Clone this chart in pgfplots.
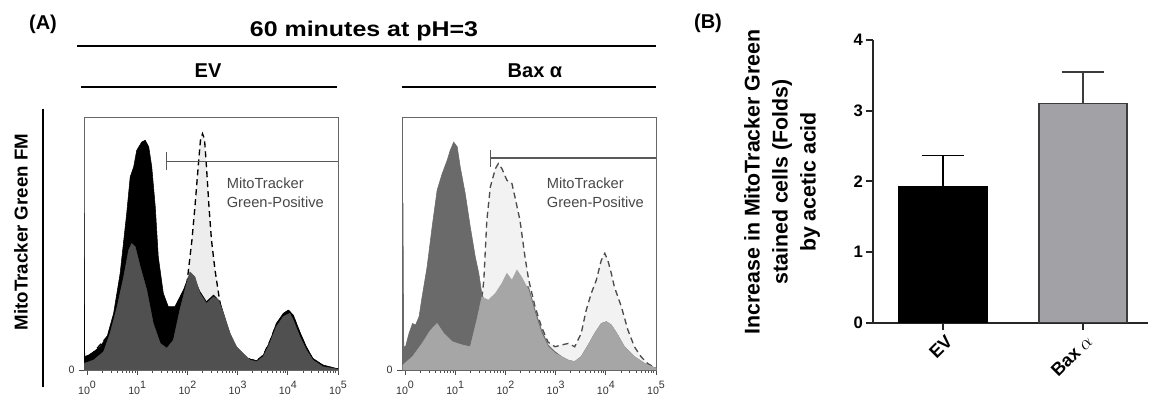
\documentclass[border=0pt]{standalone}
\usepackage{fontspec}
\setmainfont{Liberation Sans}
\usepackage{graphicx}
\usepackage{pgfplots}
\pgfplotsset{compat=1.18}
\usepackage{pgfplotstable}

\definecolor{evdark}{HTML}{505050}
\definecolor{lightfill}{HTML}{EDEDED}
\definecolor{baxdark}{HTML}{6A6A6A}
\definecolor{baxmed}{HTML}{A6A6A6}
\definecolor{baxlight}{HTML}{F2F2F2}
\definecolor{bargray}{HTML}{A2A2A6}
\definecolor{edgegray}{HTML}{3C3C3C}

% ---------- EV panel ----------
\pgfplotstableread{
x y
-0.06 62
-0.045 5.3
0.03 5.9
0.13 7.2
0.26 9.2
0.40 13.2
0.53 22.4
0.66 38.2
0.79 61.8
0.86 76.3
0.93 80.3
0.99 86.8
1.09 90.1
1.16 90.8
1.23 88.2
1.29 80.3
1.36 64.5
1.42 44.7
1.52 30.3
1.62 25
1.75 25
1.85 28.9
1.92 31.6
2.02 36.8
2.12 36.8
2.25 31
2.38 27
2.52 29.6
2.65 27
2.78 18.4
2.91 10.5
3.05 7.2
3.18 4.6
3.38 3.7
3.51 5.9
3.64 11.2
3.77 18.4
3.91 22.4
4.01 23.7
4.11 21.7
4.24 15.1
4.37 9.2
4.50 4.6
4.70 2
4.87 1.1
5.00 0.5
}\evblack

\pgfplotstableread{
x y
-0.06 2.6
0.13 3.9
0.33 7.2
0.46 14.5
0.60 25
0.73 36.8
0.83 47.4
0.89 50
0.96 48.7
1.06 40.8
1.19 31.6
1.32 18.4
1.46 10.5
1.59 8.6
1.72 11.8
1.85 23.7
1.95 31.6
2.05 38.8
2.15 36.8
2.25 30.3
2.38 26.3
2.52 28.9
2.62 27.6
2.72 22.4
2.85 14.5
2.98 9.2
3.11 6.6
3.25 3.9
3.38 3.3
3.51 5.3
3.64 10.5
3.77 17.1
3.91 21.1
4.04 22.4
4.11 19.7
4.24 13.2
4.37 7.9
4.50 3.9
4.70 1.3
5.00 0.3
}\evgray

\pgfplotstableread{
x y
-0.06 2.6
0.46 14.5
0.73 36.8
0.89 50
1.06 40.8
1.32 18.4
1.59 8.6
1.85 23.7
1.99 34.2
2.09 51.3
2.15 64.5
2.22 81.6
2.26 90.8
2.30 93.4
2.34 91.4
2.38 80.3
2.43 64.5
2.48 51.3
2.55 39.5
2.62 30.3
2.68 22.4
2.75 14.5
2.85 9.2
2.95 7.2
3.08 5.9
3.25 4.2
3.38 3.6
3.51 5.8
3.64 11.2
3.77 17.8
3.91 21.7
4.01 23.7
4.11 21.1
4.24 14.5
4.37 8.6
4.50 4.2
4.70 1.6
5.00 0.4
}\evdash

% ---------- Bax panel ----------
\pgfplotstableread{
x y
-0.04 66
-0.025 9.2
0.01 9.2
0.08 14.5
0.15 18.4
0.21 17.8
0.28 21.1
0.34 28.9
0.44 40.8
0.54 56.6
0.64 71.1
0.74 77.6
0.84 82.9
0.90 86.8
0.97 90.1
1.04 88.2
1.10 80.3
1.20 69.7
1.30 56.6
1.40 44.7
1.47 38.2
1.53 30.3
1.66 22.4
1.80 24
2.03 30
2.23 33
2.46 32.9
2.59 23.7
2.72 15.8
2.85 9.9
2.99 7.2
3.12 5.3
3.25 3.9
3.38 3.3
3.51 5.3
3.65 9.9
3.78 14.5
3.91 18.4
4.01 19.1
4.11 17.8
4.24 13.8
4.37 9.2
4.57 5.3
4.77 2.6
5.00 0.7
}\baxdark

\pgfplotstableread{
x y
-0.04 2
0.15 5.3
0.34 10.5
0.51 15.8
0.64 18.4
0.77 14.5
0.94 11.2
1.14 9.9
1.30 9.2
1.43 19.7
1.53 28.9
1.66 27.6
1.80 30.3
1.93 34.2
2.03 38.2
2.13 35.5
2.23 39.5
2.32 36.8
2.46 31.6
2.59 22.4
2.72 14.5
2.85 9.2
2.99 6.6
3.12 5.3
3.25 3.9
3.38 3.3
3.51 5.3
3.65 9.9
3.78 14.5
3.91 18.4
4.01 19.1
4.11 17.8
4.24 13.8
4.37 9.2
4.57 5.3
4.77 2.6
5.00 0.7
}\baxmed

\pgfplotstableread{
x y
-0.04 2
0.64 18.4
1.30 10.5
1.50 22.4
1.57 35.5
1.63 59.2
1.70 72.4
1.80 79.6
1.86 81.6
1.93 79.6
2.03 75
2.13 73.7
2.19 68.4
2.29 59.2
2.39 44.7
2.46 36
2.59 25
2.72 17
2.85 11
2.99 9.2
3.12 9.9
3.25 10.5
3.38 9.2
3.51 14.5
3.61 23.7
3.71 30.3
3.81 35.5
3.91 43.4
3.98 46.1
4.04 43.4
4.11 38.2
4.17 32.9
4.31 25
4.44 15.8
4.57 9.2
4.70 5.3
4.83 2.6
5.00 0.7
}\baxdash

\newcommand{\tp}[1]{10\raisebox{4.5pt}{#1}}

\pgfplotsset{
  histo/.style={
    anchor=south west, scale only axis,
    width=190.5pt, height=189.75pt,
    xmin=-0.06, xmax=5, ymin=0, ymax=100,
    axis line style={draw=black!60, line width=0.6pt},
    tick pos=left, tick align=outside,
    xtick={0,1,2,3,4,5},
    xticklabels={\tp{0},\tp{1},\tp{2},\tp{3},\tp{4},\tp{5}},
    minor xtick={0.301,0.477,0.602,0.699,0.778,0.845,0.903,0.954,
      1.301,1.477,1.602,1.699,1.778,1.845,1.903,1.954,
      2.301,2.477,2.602,2.699,2.778,2.845,2.903,2.954,
      3.301,3.477,3.602,3.699,3.778,3.845,3.903,3.954,
      4.301,4.477,4.602,4.699,4.778,4.845,4.903,4.954},
    major tick length=3.5pt, minor tick length=2.2pt,
    tick style={black!70, line width=0.5pt},
    ytick={0}, yticklabels={0},
    tick label style={font=\fontsize{8}{9}\selectfont, text=black!80},
    xticklabel style={yshift=-1pt},
  },
}
\tikzset{
  gatetext/.style={anchor=north west, align=left, inner sep=0pt,
    font=\fontsize{11}{14.3}\selectfont, text=black!72},
}

\begin{document}
\begin{tikzpicture}[x=0.75pt,y=0.75pt]
\path[use as bounding box] (0,0) rectangle (1150,396);

% ---------- headings of panel A ----------
\node[font=\fontsize{15}{18}\selectfont\bfseries] at (43,372) {(A)};
\node[anchor=base, font=\fontsize{16}{19}\selectfont\bfseries] at (364,359) {\scalebox{1.17}[1]{60 minutes at pH=3}};
\draw[line width=1.5pt] (77,350) -- (656,350);
\node[anchor=base, font=\fontsize{15}{18}\selectfont\bfseries] at (208,318) {EV};
\draw[line width=1.5pt] (81,309) -- (337,309);
\node[anchor=base, font=\fontsize{15}{18}\selectfont\bfseries] at (535,318) {Bax α};
\draw[line width=1.5pt] (402,309) -- (656,309);
\node[rotate=90, font=\fontsize{14}{17}\selectfont\bfseries] at (21,164) {MitoTracker Green FM};
\draw[line width=1.2pt] (43,287) -- (43,9);

% ---------- EV histogram ----------
\begin{axis}[histo, at={(63pt,19.5pt)}]
\addplot[fill=lightfill, draw=none] table {\evdash} \closedcycle;
\addplot[draw=black, line width=1pt, dash pattern=on 4.5pt off 3pt] table {\evdash};
\addplot[fill=black, draw=black, line width=0.4pt] table {\evblack} \closedcycle;
\addplot[fill=evdark, draw=evdark, line width=0.4pt] table {\evgray} \closedcycle;
\addplot[draw=black!65, line width=0.9pt] coordinates {(1.58,82.5) (5,82.5)};
\addplot[draw=black!65, line width=0.9pt] coordinates {(1.58,79) (1.58,86)};
\node[gatetext] at (axis cs:2.78,76) {MitoTracker\\Green-Positive};
\end{axis}

% ---------- Bax histogram ----------
\begin{axis}[histo, at={(301.5pt,19.5pt)}]
\addplot[fill=baxlight, draw=none] table {\baxdash} \closedcycle;
\addplot[draw=black!70, line width=1pt, dash pattern=on 4.5pt off 3pt] table {\baxdash};
\addplot[fill=baxdark, draw=baxdark, line width=0.4pt] table {\baxdark} \closedcycle;
\addplot[fill=baxmed, draw=baxmed, line width=0.4pt] table {\baxmed} \closedcycle;
\addplot[draw=black!65, line width=0.9pt] coordinates {(1.71,83.8) (5,83.8)};
\addplot[draw=black!65, line width=0.9pt] coordinates {(1.71,80.3) (1.71,86.8)};
\node[gatetext] at (axis cs:2.82,76) {MitoTracker\\Green-Positive};
\end{axis}

% ---------- panel B ----------
\node[font=\fontsize{15}{18}\selectfont\bfseries] at (708,373) {(B)};
\node[rotate=90, align=center, font=\fontsize{16}{21}\selectfont\bfseries] at (782,214)
  {Increase in MitoTracker Green\\stained cells (Folds)\\by acetic acid};

\begin{axis}[at={(654.75pt,54.75pt)}, anchor=south west, scale only axis,
  width=206.25pt, height=212.25pt,
  xmin=-0.5, xmax=1.464, ymin=0, ymax=4,
  axis x line=bottom, axis y line=left,
  axis line style={-, line width=1.5pt, draw=black!85},
  tick align=outside, major tick length=5pt,
  tick style={line width=1.5pt, black!85},
  xtick={0,1}, xticklabels={EV, Bax $\alpha$},
  ytick={0,1,2,3,4},
  /pgf/number format/assume math mode=true,
  yticklabel style={font=\fontsize{12.5}{14}\selectfont\bfseries, xshift=1pt},
  xticklabel style={rotate=45, anchor=north east, inner sep=1pt, yshift=-2pt,
    font=\fontsize{13.5}{15}\selectfont\bfseries},
]
\addplot[ybar, bar shift=0pt, bar width=0.63, fill=black, draw=black, line width=1pt,
  error bars/.cd, y dir=plus, y explicit,
  error bar style={line width=1.2pt, black},
  error mark options={rotate=90, mark size=16pt, line width=1.2pt, black}]
  coordinates {(0,1.92) +- (0,0.45)};
\addplot[ybar, bar shift=0pt, bar width=0.63, fill=bargray, draw=edgegray, line width=1.2pt,
  error bars/.cd, y dir=plus, y explicit,
  error bar style={line width=1.2pt, edgegray},
  error mark options={rotate=90, mark size=16pt, line width=1.2pt, edgegray}]
  coordinates {(1,3.10) +- (0,0.45)};
\end{axis}
\end{tikzpicture}
\end{document}
